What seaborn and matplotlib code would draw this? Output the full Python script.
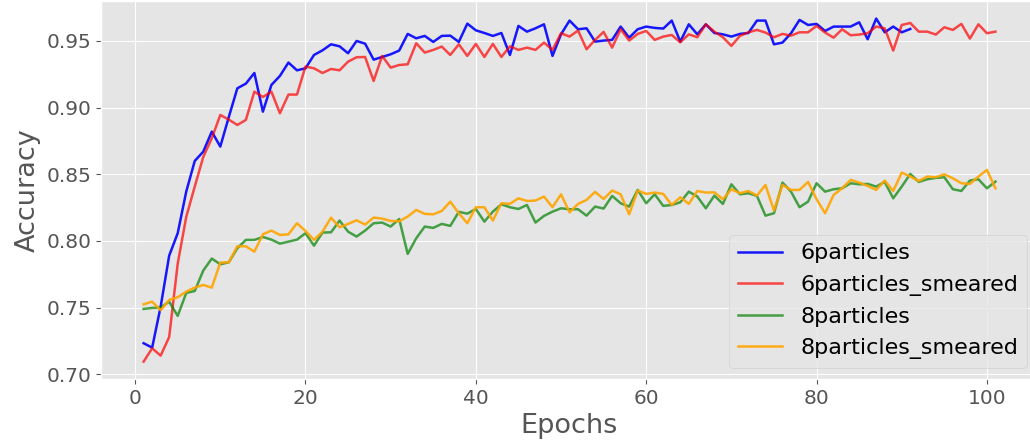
import numpy as np
import pandas as pd
import matplotlib
matplotlib.use("Agg")
import matplotlib.pyplot as plt
import seaborn as sns

# Validation accuracy per epoch for each training configuration
acc_6p = [
    0.7233, 0.7200, 0.7508, 0.7890, 0.8058, 0.8370, 0.8600, 0.8670, 0.8820, 0.8708,
    0.8930, 0.9145, 0.9180, 0.9260, 0.8970, 0.9170, 0.9238, 0.9338, 0.9280, 0.9295,
    0.9395, 0.9430, 0.9475, 0.9460, 0.9408, 0.9500, 0.9480, 0.9360, 0.9380, 0.9400,
    0.9428, 0.9553, 0.9520, 0.9538, 0.9493, 0.9538, 0.9540, 0.9493, 0.9630, 0.9580,
    0.9560, 0.9538, 0.9560, 0.9395, 0.9613, 0.9570, 0.9595, 0.9625, 0.9388, 0.9550,
    0.9653, 0.9588, 0.9595, 0.9495, 0.9503, 0.9508, 0.9608, 0.9525, 0.9588, 0.9608,
    0.9598, 0.9593, 0.9653, 0.9495, 0.9625, 0.9550, 0.9625, 0.9560, 0.9550, 0.9533,
    0.9553, 0.9560, 0.9653, 0.9653, 0.9475, 0.9488, 0.9558, 0.9658, 0.9620, 0.9628,
    0.9575, 0.9608, 0.9608, 0.9608, 0.9640, 0.9513, 0.9668, 0.9565, 0.9608, 0.9565,
    0.9590,
]

acc_6p_smeared = [
    0.7095, 0.7195, 0.7140, 0.7280, 0.7830, 0.8180, 0.8408, 0.8630, 0.8770, 0.8945,
    0.8910, 0.8870, 0.8908, 0.9120, 0.9080, 0.9120, 0.8958, 0.9098, 0.9098, 0.9308,
    0.9295, 0.9260, 0.9290, 0.9280, 0.9345, 0.9378, 0.9380, 0.9200, 0.9388, 0.9300,
    0.9320, 0.9325, 0.9483, 0.9413, 0.9433, 0.9458, 0.9395, 0.9475, 0.9388, 0.9478,
    0.9380, 0.9478, 0.9380, 0.9460, 0.9433, 0.9450, 0.9433, 0.9488, 0.9433, 0.9558,
    0.9533, 0.9578, 0.9438, 0.9508, 0.9568, 0.9450, 0.9588, 0.9503, 0.9553, 0.9575,
    0.9508, 0.9533, 0.9545, 0.9490, 0.9550, 0.9528, 0.9625, 0.9570, 0.9528, 0.9463,
    0.9538, 0.9565, 0.9583, 0.9563, 0.9528, 0.9553, 0.9540, 0.9565, 0.9565, 0.9613,
    0.9563, 0.9525, 0.9588, 0.9543, 0.9548, 0.9558, 0.9608, 0.9595, 0.9428, 0.9620,
    0.9635, 0.9570, 0.9570, 0.9548, 0.9603, 0.9583, 0.9628, 0.9518, 0.9625, 0.9558,
    0.9570,
]

acc_8p = [
    0.7490, 0.7498, 0.7500, 0.7545, 0.7438, 0.7610, 0.7625, 0.7778, 0.7868, 0.7825,
    0.7840, 0.7945, 0.8008, 0.8008, 0.8030, 0.8010, 0.7980, 0.7995, 0.8010, 0.8058,
    0.7965, 0.8063, 0.8065, 0.8153, 0.8070, 0.8033, 0.8078, 0.8133, 0.8138, 0.8108,
    0.8165, 0.7903, 0.8020, 0.8108, 0.8098, 0.8128, 0.8113, 0.8218, 0.8205, 0.8240,
    0.8145, 0.8220, 0.8275, 0.8253, 0.8240, 0.8270, 0.8138, 0.8188, 0.8220, 0.8245,
    0.8238, 0.8238, 0.8190, 0.8258, 0.8243, 0.8338, 0.8283, 0.8258, 0.8383, 0.8283,
    0.8350, 0.8263, 0.8270, 0.8290, 0.8370, 0.8333, 0.8245, 0.8340, 0.8278, 0.8425,
    0.8350, 0.8358, 0.8338, 0.8190, 0.8208, 0.8438, 0.8370, 0.8253, 0.8295, 0.8433,
    0.8370, 0.8388, 0.8395, 0.8433, 0.8425, 0.8428, 0.8408, 0.8443, 0.8320, 0.8408,
    0.8503, 0.8443, 0.8463, 0.8473, 0.8478, 0.8388, 0.8375, 0.8453, 0.8463, 0.8395,
    0.8445,
]

acc_8p_smeared = [
    0.7525, 0.7545, 0.7480, 0.7558, 0.7578, 0.7620, 0.7650, 0.7670, 0.7650, 0.7838,
    0.7840, 0.7960, 0.7960, 0.7920, 0.8050, 0.8078, 0.8045, 0.8050, 0.8133, 0.8075,
    0.8008, 0.8070, 0.8175, 0.8103, 0.8128, 0.8155, 0.8123, 0.8175, 0.8168, 0.8150,
    0.8148, 0.8183, 0.8233, 0.8203, 0.8200, 0.8225, 0.8295, 0.8208, 0.8133, 0.8253,
    0.8253, 0.8153, 0.8283, 0.8278, 0.8320, 0.8300, 0.8303, 0.8333, 0.8253, 0.8350,
    0.8215, 0.8278, 0.8308, 0.8368, 0.8315, 0.8378, 0.8350, 0.8200, 0.8378, 0.8353,
    0.8363, 0.8353, 0.8270, 0.8328, 0.8278, 0.8375, 0.8363, 0.8365, 0.8313, 0.8388,
    0.8358, 0.8375, 0.8340, 0.8420, 0.8228, 0.8420, 0.8383, 0.8383, 0.8443, 0.8313,
    0.8208, 0.8345, 0.8395, 0.8458, 0.8438, 0.8413, 0.8383, 0.8453, 0.8375, 0.8513,
    0.8483, 0.8450, 0.8483, 0.8478, 0.8500, 0.8470, 0.8433, 0.8428, 0.8483, 0.8533,
    0.8395,
]

series_names = ["6particles", "6particles_smeared", "8particles", "8particles_smeared"]
series_values = [acc_6p, acc_6p_smeared, acc_8p, acc_8p_smeared]
series_colors = ["blue", "red", "green", "orange"]
series_alpha = [0.9, 0.7, 0.7, 0.9]

plt.style.use("ggplot")

fig = plt.figure(figsize=(10.30, 4.45), dpi=100)
ax = fig.add_axes([0.0981, 0.1488, 0.9097, 0.848])

for name, vals, col, a in zip(series_names, series_values, series_colors, series_alpha):
    df = pd.DataFrame({"Epochs": np.arange(1, len(vals) + 1), "Accuracy": vals})
    sns.lineplot(data=df, x="Epochs", y="Accuracy", color=col, alpha=a,
                 linewidth=1.8, label=name, ax=ax)

ax.set_xlabel("Epochs", fontsize=19.5, color="#555555")
ax.set_ylabel("Accuracy", fontsize=19.5, color="#555555")
ax.tick_params(axis="both", labelsize=14.5, colors="#555555")
ax.set_yticks([0.70, 0.75, 0.80, 0.85, 0.90, 0.95])
ax.set_xticks([0, 20, 40, 60, 80, 100])

ax.legend(loc="lower right", fontsize=16)

fig.savefig("out.png", dpi=100)
